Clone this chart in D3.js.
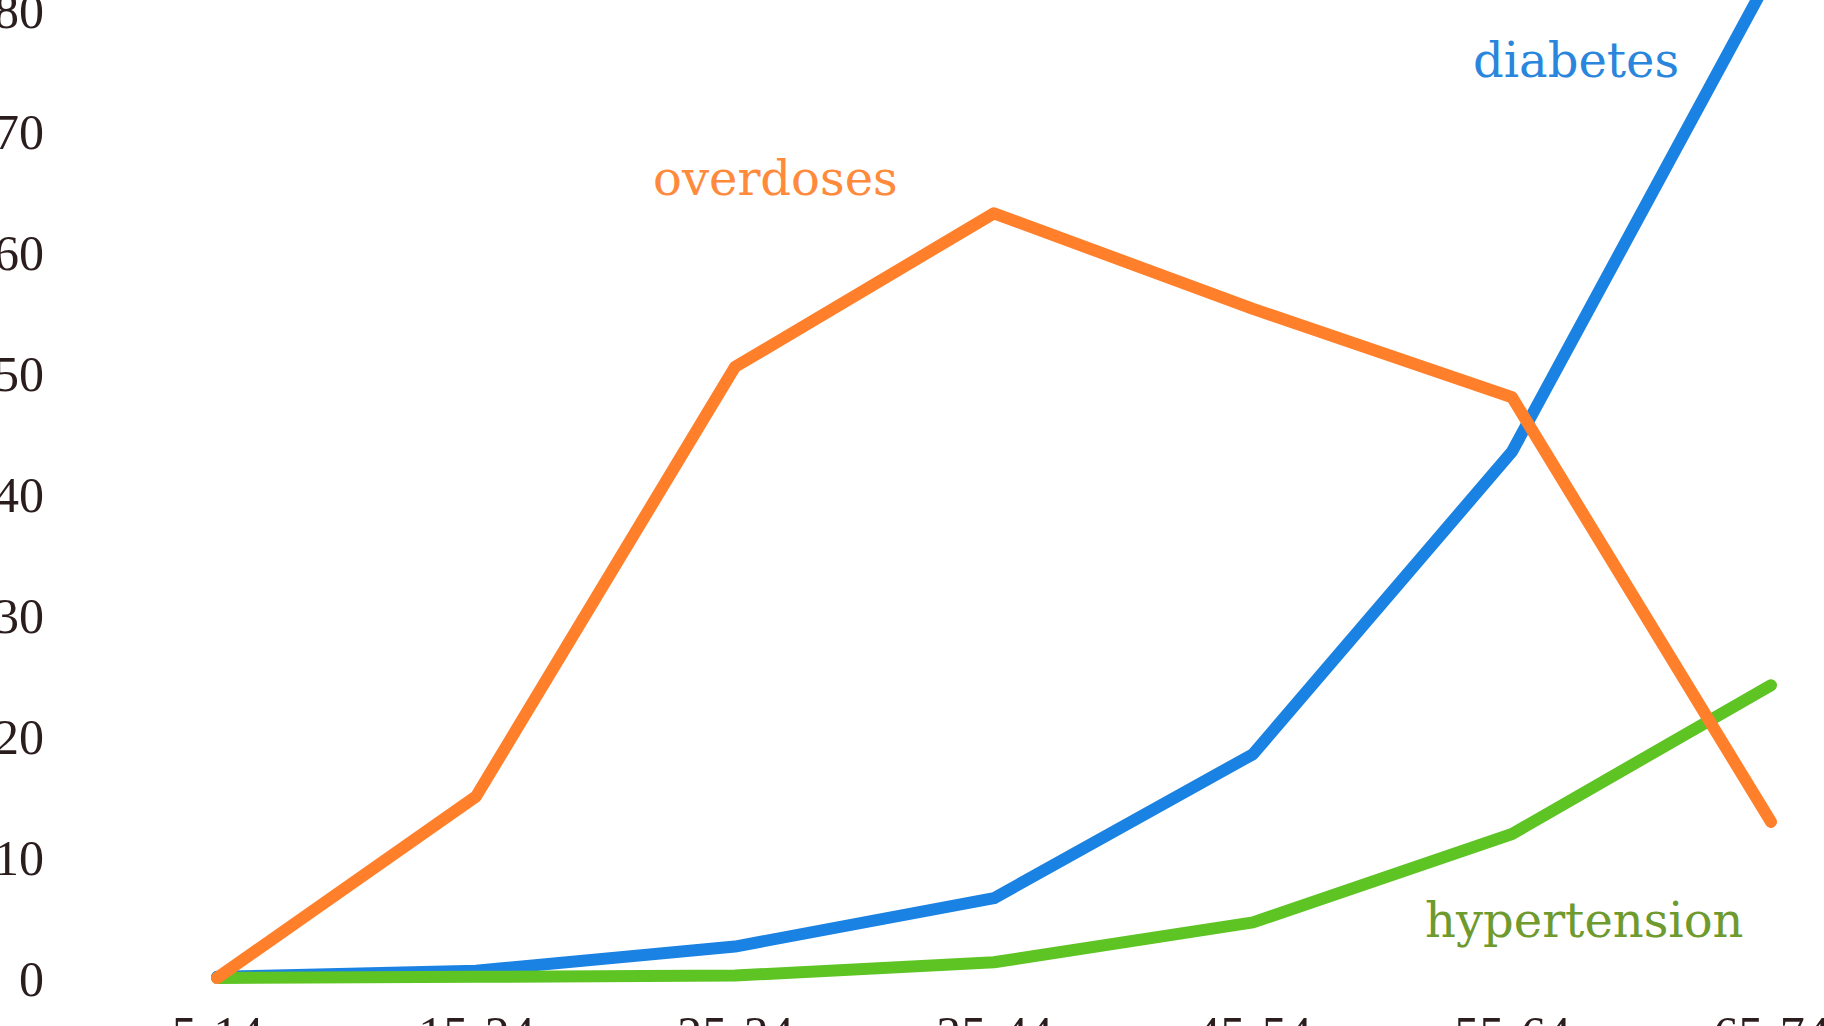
<!DOCTYPE html>
<html>
<head>
<meta charset="utf-8">
<script src="https://cdn.jsdelivr.net/npm/d3@7/dist/d3.min.js"></script>
<style>
  html, body { margin: 0; padding: 0; background: #ffffff; overflow: hidden; }
  svg { display: block; }
</style>
</head>
<body>
<svg id="chart" width="1824" height="1026"></svg>
<script>
// ---- data ----
const ageGroups = ["5-14", "15-24", "25-34", "35-44", "45-54", "55-64", "65-74"];
const overdoses    = [0, 15.0, 50.5, 63.2, 55.3, 48.0, 12.9];
const diabetes     = [0.1, 0.6, 2.6, 6.6, 18.5, 43.5, 83.0];
const hypertension = [0, 0.1, 0.2, 1.3, 4.6, 11.9, 24.2];
const yTicks = [0, 10, 20, 30, 40, 50, 60, 70, 80];
const seriesNames = ["diabetes", "hypertension", "overdoses"];

// ---- layout ----
const svg = d3.select("#chart");
const x = d3.scalePoint().domain(ageGroups).range([217, 1771]);
const y = d3.scaleLinear().domain([0, 80]).range([978, 10]);

const colors = {
  diabetes: "#1a82e2",
  hypertension: "#5ec423",
  overdoses: "#ff7f2a"
};
const labelColors = {
  diabetes: "#2a86dc",
  hypertension: "#6e9a2e",
  overdoses: "#ff8a3c"
};
const values = { diabetes, hypertension, overdoses };

// y tick labels
const yAxis = d3.axisLeft(y).tickValues(yTicks).tickSize(0).tickPadding(0);
const gy = svg.append("g").attr("transform", "translate(44,0)").call(yAxis);
gy.select(".domain").remove();
gy.selectAll("text")
  .attr("fill", "#2b1d1d")
  .attr("font-family", "'Liberation Serif', serif")
  .attr("font-size", 50)
  .attr("dy", "0.34em");

// x tick labels
const xAxis = d3.axisBottom(x).tickSize(0).tickPadding(0);
const gx = svg.append("g").attr("transform", "translate(0,1017)").call(xAxis);
gx.select(".domain").remove();
gx.selectAll("text")
  .attr("fill", "#2b1d1d")
  .attr("font-family", "'Liberation Serif', serif")
  .attr("font-size", 50)
  .attr("dy", "0.68em");

// lines
const line = d3.line()
  .x((d, i) => x(ageGroups[i]))
  .y(d => y(d));

seriesNames.forEach(name => {
  svg.append("path")
    .datum(values[name])
    .attr("d", line)
    .attr("fill", "none")
    .attr("stroke", colors[name])
    .attr("stroke-width", 12)
    .attr("stroke-linejoin", "round")
    .attr("stroke-linecap", "round");
});

// series labels
const labelPos = {
  overdoses: [653, 195],
  diabetes: [1473, 77],
  hypertension: [1425, 937]
};
seriesNames.forEach(name => {
  svg.append("text")
    .attr("x", labelPos[name][0])
    .attr("y", labelPos[name][1])
    .attr("fill", labelColors[name])
    .attr("font-family", "'DejaVu Serif', serif")
    .attr("font-size", 48)
    .text(name);
});
</script>
</body>
</html>
